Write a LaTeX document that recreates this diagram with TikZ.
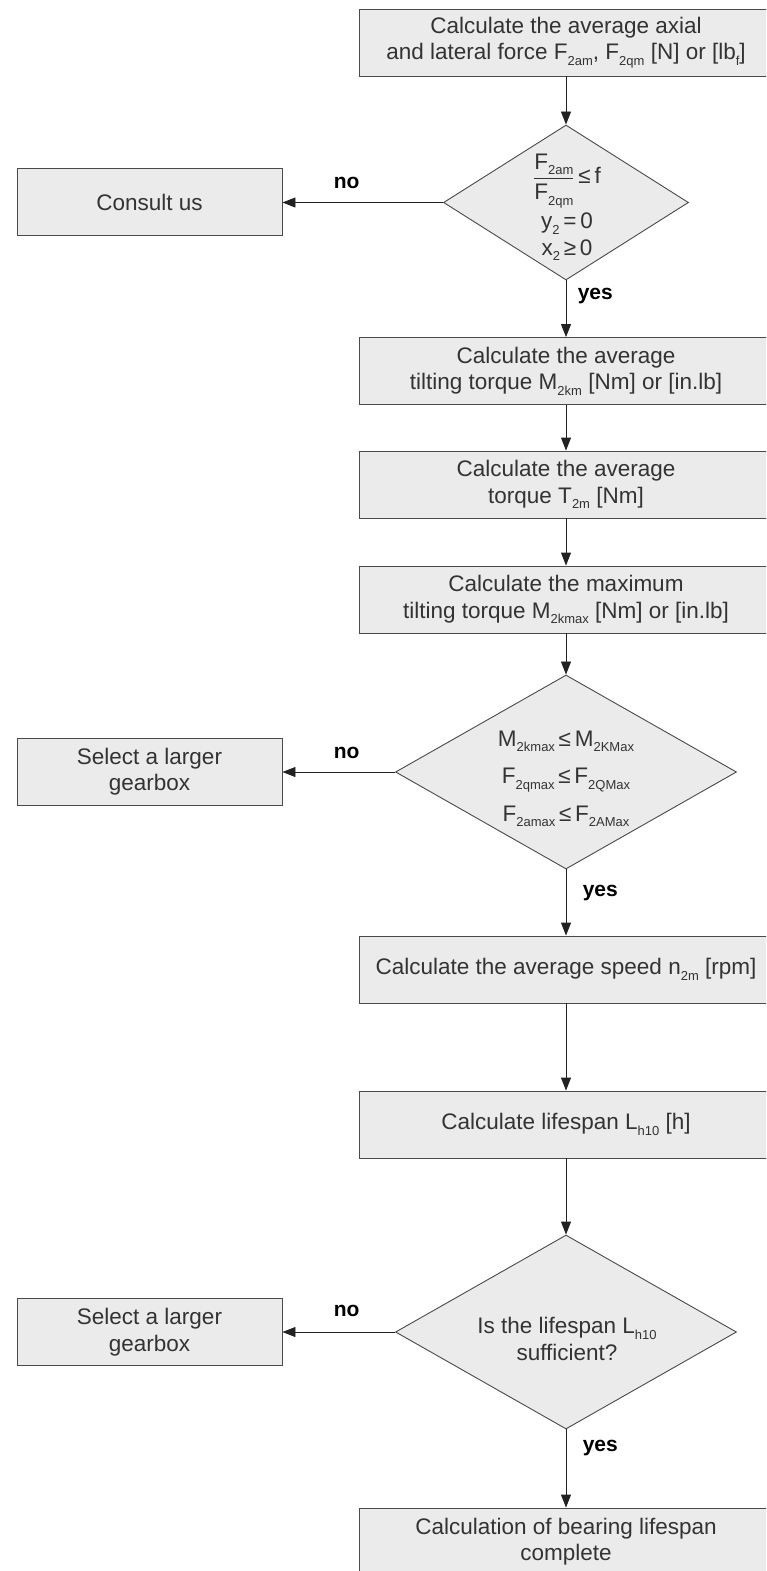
\documentclass[tikz,border=0pt]{standalone}
\usepackage{amsmath}
\usepackage{fontspec}
\setmainfont{Liberation Sans}
\usetikzlibrary{shapes.geometric,arrows.meta}
\definecolor{boxfill}{HTML}{EBEBEB}
\definecolor{boxline}{HTML}{4A4A4A}
\definecolor{txt}{HTML}{333333}
\definecolor{wire}{HTML}{222222}
\newcommand\lsub[1]{\raisebox{-5.5pt}{\fontsize{13}{14}\selectfont #1}}
\begin{document}
\begin{tikzpicture}[x=1pt,y=-1pt,
  proc/.style={rectangle, draw=boxline, fill=boxfill, line width=0.9pt, minimum height=67pt, inner sep=0pt, align=center, text=txt, font=\fontsize{22.5}{26.5}\selectfont},
  wide/.style={proc, minimum width=414pt},
  side/.style={proc, minimum width=265pt},
  decision/.style={diamond, draw=boxline, fill=boxfill, line width=0.9pt, inner sep=0pt},
  dtext/.style={align=center, text=txt, font=\fontsize{22.5}{26.5}\selectfont},
  flow/.style={draw=wire, line width=0.9pt, -{Triangle[length=13pt,width=10pt]}},
  lab/.style={font=\fontsize{21}{24}\selectfont\bfseries, text=black}
]
\useasboundingbox (0,0) rectangle (766,1571);
\clip (0,0) rectangle (766,1571);

% main column
\node[wide] (b1) at (566,42.5) {Calculate the average axial\\and lateral force F\lsub{2am}, F\lsub{2qm} [N] or [lb\lsub{f}]};
\node[decision, minimum width=245pt, minimum height=155pt] (d1) at (566,202.5) {};
\node[dtext] (d1t) at (567,206) {$\dfrac{\hbox{\rule{0pt}{18pt}F\lsub{2am}}}{\hbox{\rule{0pt}{19pt}F\lsub{2qm}}}$\,≤\,f\\[4pt]y\lsub{2}\,=\,0\\x\lsub{2}\,≥\,0};
\node[wide] (b2) at (566,371) {Calculate the average\\tilting torque M\lsub{2km} [Nm] or [in.lb]};
\node[wide] (b3) at (566,484.5) {Calculate the average\\torque T\lsub{2m} [Nm]};
\node[wide] (b4) at (566,599.5) {Calculate the maximum\\tilting torque M\lsub{2kmax} [Nm] or [in.lb]};
\node[decision, minimum width=341pt, minimum height=194pt] (d2) at (566,772) {};
\node[dtext] (d2t) at (566,779) {M\lsub{2kmax}\,≤\,M\lsub{2KMax}\\[11pt]F\lsub{2qmax}\,≤\,F\lsub{2QMax}\\[11pt]F\lsub{2amax}\,≤\,F\lsub{2AMax}};
\node[wide] (b5) at (566,969.5) {Calculate the average speed n\lsub{2m} [rpm]};
\node[wide] (b6) at (566,1124.5) {Calculate lifespan L\lsub{h10} [h]};
\node[decision, minimum width=341pt, minimum height=194pt] (d3) at (566,1332) {};
\node[dtext] (d3t) at (567,1339) {Is the lifespan L\lsub{h10}\\sufficient?};
\node[wide] (b7) at (566,1541.5) {Calculation of bearing lifespan\\complete};

% side column
\node[side] (l1) at (149.5,202) {Consult us};
\node[side] (l2) at (149.5,771.5) {Select a larger\\gearbox};
\node[side] (l3) at (149.5,1332) {Select a larger\\gearbox};

% connectors
\draw[flow] (b1) -- (d1);
\draw[flow] (d1) -- node[lab, pos=0.28, anchor=west, xshift=8pt] {yes} (b2);
\draw[flow] (b2) -- (b3);
\draw[flow] (b3) -- (b4);
\draw[flow] (b4) -- (d2);
\draw[flow] (d2) -- node[lab, pos=0.36, anchor=west, xshift=13pt] {yes} (b5);
\draw[flow] (b5) -- (b6);
\draw[flow] (b6) -- (d3);
\draw[flow] (d3) -- node[lab, pos=0.24, anchor=west, xshift=13pt] {yes} (b7);

\draw[flow] (d1.west) -- node[lab, pos=0.6, yshift=20pt] {no} (d1.west -| l1.east);
\draw[flow] (d2.west) -- node[lab, pos=0.43, yshift=19pt] {no} (d2.west -| l2.east);
\draw[flow] (d3.west) -- node[lab, pos=0.43, yshift=21pt] {no} (d3.west -| l3.east);
\end{tikzpicture}
\end{document}
